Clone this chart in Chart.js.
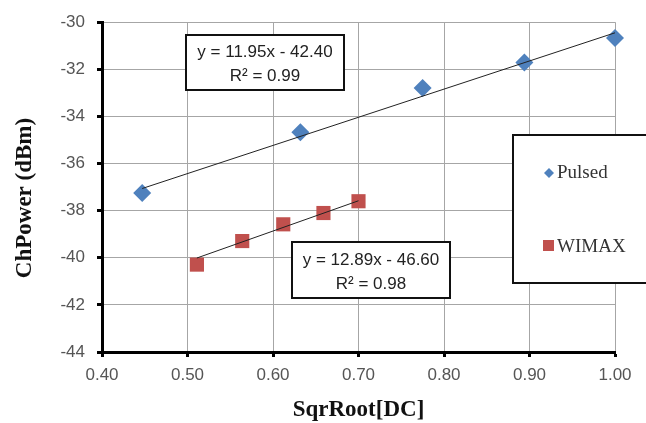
<!DOCTYPE html>
<html>
<head>
<meta charset="utf-8">
<script src="https://cdn.jsdelivr.net/npm/chart.js@4"></script>
<style>
  html, body { margin: 0; padding: 0; background: #fff; }
  #wrap { width: 646px; height: 423px; }
</style>
</head>
<body>
<div id="wrap"><canvas id="chart"></canvas></div>
<script>
// values
const pulsedX = [0.447, 0.632, 0.775, 0.894, 1.0];
const pulsedY = [-37.25, -34.67, -32.79, -31.71, -30.67];
const wimaxX = [0.511, 0.564, 0.612, 0.659, 0.700];
const wimaxY = [-40.29, -39.29, -38.58, -38.10, -37.60];
// trend line end points (y = 11.95x - 42.40, y = 12.89x - 46.60)
const pulsedTrendX = [0.447, 1.0];
const pulsedTrendY = [-37.06, -30.45];
const wimaxTrendX = [0.511, 0.700];
const wimaxTrendY = [-40.01, -37.58];
const seriesNames = ['Pulsed', 'WIMAX'];
const eqLabels = [['y = 11.95x - 42.40', 'R\u00b2 = 0.99'], ['y = 12.89x - 46.60', 'R\u00b2 = 0.98']];
const xTitle = 'SqrRoot[DC]';
const yTitle = 'ChPower (dBm)';

const blue = '#4f81bd', red = '#c0504d';
const toPts = (xs, ys) => xs.map((x, i) => ({x: x, y: ys[i]}));
const tickFont = {family: 'Liberation Sans', size: 17};

const extras = {
    id: 'extras',
    afterDraw(chart) {
        const ctx = chart.ctx;
        const {top, bottom, left, right} = chart.chartArea;
        ctx.save();
        // equation boxes
        function eqBox(x, y, w, h, lines) {
            ctx.fillStyle = '#fff';
            ctx.fillRect(x, y, w, h);
            ctx.strokeStyle = '#111';
            ctx.lineWidth = 2;
            ctx.strokeRect(x, y, w, h);
            ctx.fillStyle = '#222';
            ctx.font = '17px "Liberation Sans"';
            ctx.textAlign = 'center';
            ctx.textBaseline = 'middle';
            ctx.fillText(lines[0], x + w / 2, y + h * 0.32);
            ctx.fillText(lines[1], x + w / 2, y + h * 0.76);
        }
        eqBox(186, 35, 158, 55, eqLabels[0]);
        eqBox(292, 242, 158, 56, eqLabels[1]);

        // legend
        ctx.fillStyle = '#fff';
        ctx.fillRect(513, 135, 140, 148);
        ctx.strokeStyle = '#111';
        ctx.lineWidth = 2;
        ctx.strokeRect(513, 135, 140, 148);
        ctx.fillStyle = blue;
        ctx.beginPath();
        ctx.moveTo(549, 168); ctx.lineTo(554, 173); ctx.lineTo(549, 178); ctx.lineTo(544, 173);
        ctx.closePath();
        ctx.fill();
        ctx.fillStyle = red;
        ctx.fillRect(543, 240, 11, 11);
        ctx.fillStyle = '#333';
        ctx.font = '19px "Liberation Serif"';
        ctx.textAlign = 'left';
        ctx.textBaseline = 'middle';
        ctx.fillText(seriesNames[0], 557, 173);
        ctx.fillText(seriesNames[1], 557, 247);

        // axis titles
        ctx.fillStyle = '#111';
        ctx.font = 'bold 23px "Liberation Serif"';
        ctx.textAlign = 'center';
        ctx.fillText(xTitle, (left + right) / 2, 410);
        ctx.translate(25, 198);
        ctx.rotate(-Math.PI / 2);
        ctx.fillText(yTitle, 0, 0);
        ctx.restore();
    }
};

new Chart(document.getElementById('chart'), {
    type: 'scatter',
    data: {
        datasets: [
            {
                label: 'Pulsed trend',
                data: toPts(pulsedTrendX, pulsedTrendY),
                showLine: true, pointRadius: 0,
                borderColor: '#222', borderWidth: 1, order: 0
            },
            {
                label: 'WIMAX trend',
                data: toPts(wimaxTrendX, wimaxTrendY),
                showLine: true, pointRadius: 0,
                borderColor: '#222', borderWidth: 1, order: 0
            },
            {
                label: seriesNames[0],
                data: toPts(pulsedX, pulsedY),
                pointStyle: 'rectRot', pointRadius: 9, clip: false,
                backgroundColor: blue, borderColor: blue, borderWidth: 0, order: 1
            },
            {
                label: seriesNames[1],
                data: toPts(wimaxX, wimaxY),
                pointStyle: 'rect', pointRadius: 10, clip: false,
                backgroundColor: red, borderColor: red, borderWidth: 0, order: 1
            }
        ]
    },
    options: {
        responsive: true,
        maintainAspectRatio: false,
        animation: false,
        layout: {padding: {left: 0, top: 16, right: 31, bottom: 0}},
        plugins: {legend: {display: false}, tooltip: {enabled: false}},
        scales: {
            x: {
                type: 'linear', min: 0.4, max: 1.0,
                ticks: {stepSize: 0.1, color: '#555', font: tickFont, padding: 8,
                    callback: v => v.toFixed(2)},
                grid: {color: '#a6a6a6', lineWidth: 1, tickColor: '#000', tickWidth: 3, tickLength: 5},
                border: {color: '#000', width: 3},
                afterFit: s => { s.height = 71; }
            },
            y: {
                type: 'linear', min: -44, max: -30,
                ticks: {stepSize: 2, color: '#555', font: tickFont, padding: 12},
                grid: {color: '#a6a6a6', lineWidth: 1, tickColor: '#000', tickWidth: 3, tickLength: 5},
                border: {color: '#000', width: 3},
                afterFit: s => { s.width = 102; }
            }
        }
    },
    plugins: [extras]
});
</script>
</body>
</html>
